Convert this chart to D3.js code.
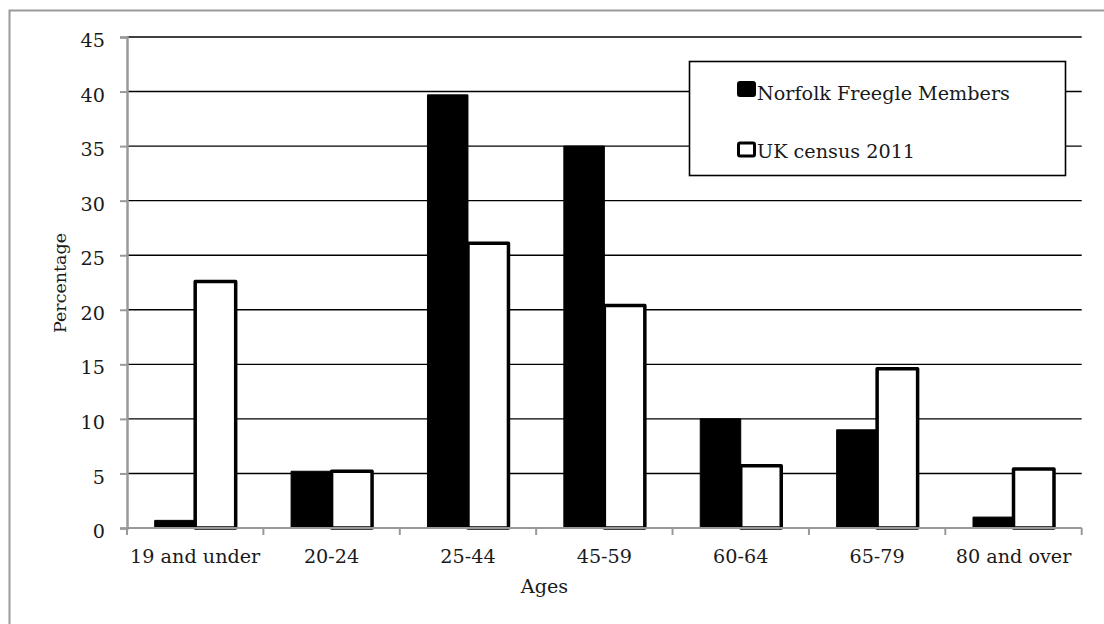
<!DOCTYPE html>
<html>
<head>
<meta charset="utf-8">
<script src="https://cdn.jsdelivr.net/npm/d3@7"></script>
<style>
  html, body { margin: 0; padding: 0; background: #fff; }
  svg { display: block; }
  text { font-family: "DejaVu Serif", "Liberation Serif", serif; fill: #1a1a1a; }
</style>
</head>
<body>
<svg id="chart" width="1104" height="624"></svg>
<script>
// Age bands and the share of people (%) in each band
const categories = ["19 and under", "20-24", "25-44", "45-59", "60-64", "65-79", "80 and over"];
const seriesNames = ["Norfolk Freegle Members", "UK census 2011"];
const freegleValues = [0.7, 5.2, 39.7, 35.0, 10.0, 9.0, 1.0];
const censusValues = [22.6, 5.2, 26.1, 20.4, 5.7, 14.6, 5.4];
const yTicks = [0, 5, 10, 15, 20, 25, 30, 35, 40, 45];

const rows = categories.map((c, i) => ({
  category: c,
  values: [
    { series: seriesNames[0], value: freegleValues[i] },
    { series: seriesNames[1], value: censusValues[i] }
  ]
}));

const svg = d3.select("#chart");
const fontSize = 19.2;

// Outer frame (extends past the canvas on the right and bottom)
svg.append("rect")
  .attr("x", 9.5).attr("y", 10.5)
  .attr("width", 1200).attr("height", 800)
  .attr("fill", "none").attr("stroke", "#9a9a9a").attr("stroke-width", 2);

const plot = { left: 127, right: 1081.7, top: 37, bottom: 528 };

const x0 = d3.scaleBand().domain(categories).range([plot.left, plot.right]).paddingInner(0).paddingOuter(0);
const x1 = d3.scaleBand().domain(seriesNames).range([0, x0.bandwidth()]).paddingInner(0).paddingOuter(0.684);
const y = d3.scaleLinear().domain([0, 45]).range([plot.bottom, plot.top]);

// Horizontal gridlines
svg.append("g").selectAll("line")
  .data(yTicks.filter(t => t > 0))
  .join("line")
  .attr("x1", plot.left).attr("x2", plot.right)
  .attr("y1", d => y(d)).attr("y2", d => y(d))
  .attr("stroke", "#000").attr("stroke-width", 1.4);

// Bars
const groups = svg.append("g").selectAll("g")
  .data(rows)
  .join("g")
  .attr("transform", d => `translate(${x0(d.category)},0)`);

groups.selectAll("rect")
  .data(d => d.values)
  .join("rect")
  .attr("x", d => x1(d.series))
  .attr("width", x1.bandwidth())
  .attr("y", d => y(d.value))
  .attr("height", d => y(0) - y(d.value))
  .attr("fill", d => d.series === seriesNames[0] ? "#000" : "#fff")
  .attr("stroke", "#000")
  .attr("stroke-linejoin", "round")
  .attr("stroke-width", d => d.series === seriesNames[0] ? 1 : 3.5);

// Y axis
const yAxis = svg.append("g")
  .attr("transform", `translate(${plot.left},0)`)
  .call(d3.axisLeft(y).tickValues(yTicks).tickSize(7).tickPadding(15).tickFormat(d3.format("d")));
yAxis.select(".domain").attr("stroke", "#999").attr("stroke-width", 2.5);
yAxis.selectAll(".tick line").attr("stroke", "#999").attr("stroke-width", 2);
yAxis.selectAll(".tick text")
  .attr("font-size", fontSize)
  .attr("font-family", null)
  .attr("fill", "#1a1a1a")
  .attr("dy", "0.5em");

// X axis: baseline with ticks at the category boundaries
const xg = svg.append("g");
xg.append("line")
  .attr("x1", plot.left).attr("x2", plot.right)
  .attr("y1", plot.bottom).attr("y2", plot.bottom)
  .attr("stroke", "#999").attr("stroke-width", 2);
const boundaries = categories.map(c => x0(c)).concat([x0(categories[categories.length - 1]) + x0.bandwidth()]);
xg.selectAll("line.tick")
  .data(boundaries)
  .join("line")
  .attr("class", "tick")
  .attr("x1", d => d).attr("x2", d => d)
  .attr("y1", plot.bottom).attr("y2", plot.bottom + 7)
  .attr("stroke", "#999").attr("stroke-width", 2);
xg.selectAll("text")
  .data(categories)
  .join("text")
  .attr("x", d => x0(d) + x0.bandwidth() / 2)
  .attr("y", 563)
  .attr("text-anchor", "middle")
  .attr("font-size", fontSize)
  .text(d => d);

// Axis titles
svg.append("text")
  .attr("x", 544.5).attr("y", 593)
  .attr("text-anchor", "middle")
  .attr("font-size", fontSize)
  .text("Ages");
svg.append("text")
  .attr("transform", "translate(66,283) rotate(-90)")
  .attr("text-anchor", "middle")
  .attr("font-size", 17.5)
  .text("Percentage");

// Legend
const legend = svg.append("g");
legend.append("rect")
  .attr("x", 689.5).attr("y", 61.5)
  .attr("width", 376).attr("height", 114)
  .attr("fill", "#fff").attr("stroke", "#000").attr("stroke-width", 1.6);
const legendRows = [
  { name: seriesNames[0], fill: "#000", y: 82.5, baseline: 99.5 },
  { name: seriesNames[1], fill: "#fff", y: 143, baseline: 158 }
];
legendRows.forEach(r => {
  legend.append("rect")
    .attr("x", 738.5).attr("y", r.y)
    .attr("width", 16).attr("height", 13)
    .attr("rx", 1.5)
    .attr("fill", r.fill).attr("stroke", "#000").attr("stroke-width", 3);
  legend.append("text")
    .attr("x", 757).attr("y", r.baseline)
    .attr("font-size", fontSize)
    .text(r.name);
});
</script>
</body>
</html>
